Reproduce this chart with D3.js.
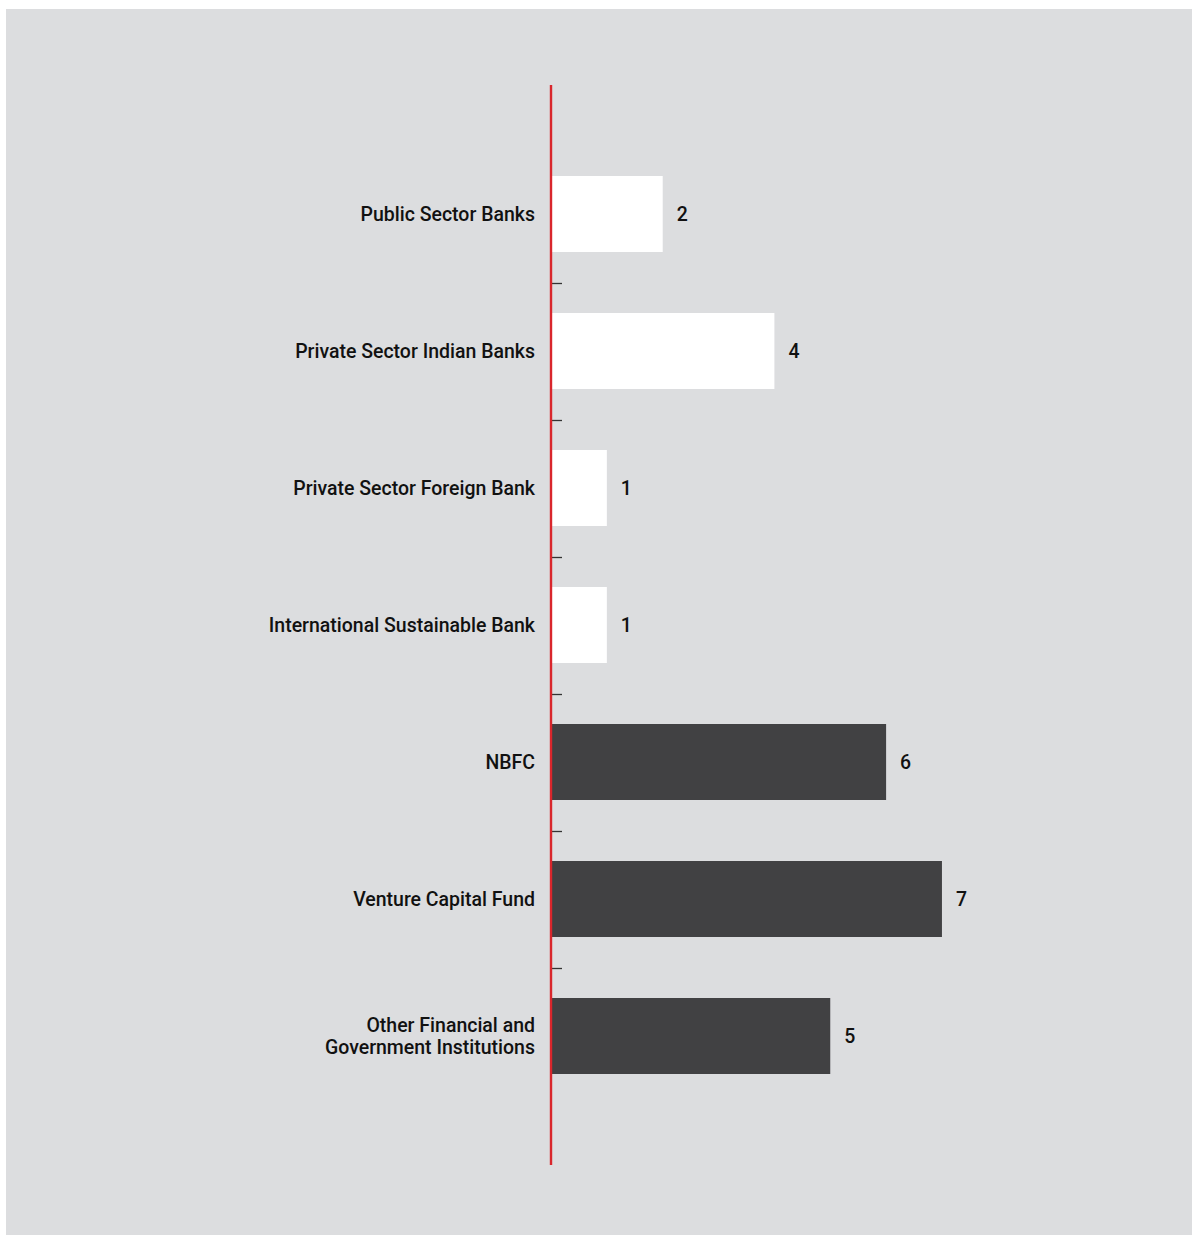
<!DOCTYPE html>
<html><head><meta charset="utf-8">
<script src="https://cdn.jsdelivr.net/npm/d3@7"></script>
<style>
html,body{margin:0;padding:0;background:#fff;}
svg{display:block;}
text{font-family:Roboto,"DejaVu Sans Condensed",sans-serif;font-weight:500;fill:#111;}
</style></head>
<body>
<svg id="chart" width="1192" height="1235"></svg>
<script>
const categories = [
  "Public Sector Banks",
  "Private Sector Indian Banks",
  "Private Sector Foreign Bank",
  "International Sustainable Bank",
  "NBFC",
  "Venture Capital Fund",
  "Other Financial and\nGovernment Institutions"
];
const values = [2, 4, 1, 1, 6, 7, 5];
const groups = ["bank", "bank", "bank", "bank", "other", "other", "other"];

const svg = d3.select("#chart");
const W = 1192, H = 1235;
const FS = 21;

svg.append("rect").attr("x", 6).attr("y", 9).attr("width", W - 6).attr("height", H - 9).attr("fill", "#dcdddf");

// horizontal condensing factor to mimic the narrow typeface
const probe = svg.append("text").attr("font-size", FS).text("Private Sector Indian Banks");
const sx = 240 / probe.node().getComputedTextLength();
probe.remove();

const x0 = 551;
const x = d3.scaleLinear().domain([0, 7]).range([x0, x0 + 7 * 55.85]);
const y = d3.scaleBand().domain(categories).range([145.5, 145.5 + 7 * 137]).paddingInner(61 / 137).paddingOuter(61 / 274);

const color = d3.scaleOrdinal().domain(["bank", "other"]).range(["#ffffff", "#414143"]);

const data = categories.map((c, i) => ({c, v: values[i], g: groups[i]}));

// bars
svg.append("g").selectAll("rect").data(data).join("rect")
  .attr("x", x(0) + 1)
  .attr("y", d => y(d.c))
  .attr("width", d => x(d.v) - x(0) - 1)
  .attr("height", y.bandwidth())
  .attr("fill", d => color(d.g));

// ticks between bands
const step = y.step();
const tickYs = categories.slice(1).map(c => y(c) - (step - y.bandwidth()) / 2);
svg.append("g").selectAll("line").data(tickYs).join("line")
  .attr("x1", x0).attr("x2", x0 + 11)
  .attr("y1", d => Math.round(d) + 0.5).attr("y2", d => Math.round(d) + 0.5)
  .attr("stroke", "#333").attr("stroke-width", 1.3);

// axis line
svg.append("line").attr("x1", x0).attr("x2", x0).attr("y1", 85).attr("y2", 1165)
  .attr("stroke", "#d9262c").attr("stroke-width", 2.4);

// category labels
const lab = svg.append("g").selectAll("text").data(data).join("text")
  .attr("text-anchor", "end")
  .attr("font-size", FS)
  .attr("transform", d => `translate(${x0 - 16},${y(d.c) + y.bandwidth() / 2}) scale(${sx},1)`);
lab.each(function(d) {
  const lines = d.c.split("\n");
  const t = d3.select(this);
  lines.forEach((l, i) => {
    t.append("tspan").attr("x", 0)
      .attr("y", (i - (lines.length - 1) / 2) * 22)
      .attr("dy", "0.35em").text(l);
  });
});

// value labels
svg.append("g").selectAll("text").data(data).join("text")
  .attr("transform", d => `translate(${x(d.v) + 14},${y(d.c) + y.bandwidth() / 2}) scale(${sx},1)`)
  .attr("dy", "0.35em")
  .attr("font-size", FS)
  .text(d => d.v);
</script>
</body></html>
